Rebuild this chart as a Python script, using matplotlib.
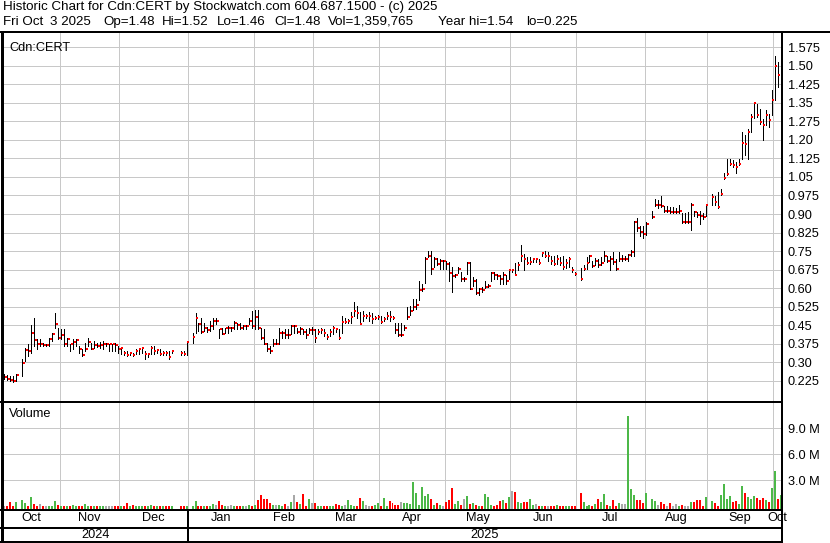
import numpy as np
import matplotlib
matplotlib.use('Agg')
from matplotlib import pyplot as plt
from matplotlib.transforms import blended_transform_factory

plt.rcParams['font.family'] = ['Liberation Sans', 'DejaVu Sans']

nan = np.nan

# one slot per trading day, Oct 2024 .. Oct 3 2025 (nan = no trade)
high = [0.252, 0.248, 0.245, 0.245, 0.252, nan, 0.312, 0.360, 0.373, 0.450,
        0.481, 0.393, 0.393, 0.380, 0.376, 0.400, 0.420, 0.501, 0.440, 0.434,
        0.434, 0.400, 0.376, 0.393, 0.393, 0.366, 0.353, 0.380, 0.400, 0.380,
        0.386, 0.380, 0.382, 0.386, 0.380, 0.376, 0.376, 0.380, 0.366, 0.360,
        0.346, 0.346, 0.339, 0.339, 0.353, 0.357, 0.360, 0.346, 0.339, 0.366,
        0.366, 0.356, 0.353, 0.346, 0.346, 0.346, 0.350, nan, nan, 0.346,
        0.346, 0.386, nan, 0.420, 0.501, 0.461, 0.481, 0.461, 0.444, 0.467,
        0.481, 0.481, 0.436, 0.440, 0.440, 0.447, 0.443, 0.467, 0.461, 0.461,
        0.450, 0.450, 0.481, 0.508, 0.510, 0.510, 0.440, 0.434, 0.380, 0.366,
        0.393, 0.393, 0.440, 0.427, 0.434, 0.434, 0.450, 0.450, 0.440, 0.443,
        0.434, 0.434, 0.438, 0.443, 0.434, 0.434, 0.438, 0.434, 0.416, 0.436,
        0.447, 0.440, 0.434, 0.488, 0.481, 0.477, 0.502, 0.543, 0.529, 0.502,
        0.509, 0.495, 0.502, 0.498, 0.488, 0.491, 0.488, 0.484, 0.502, 0.509,
        0.488, 0.461, 0.461, 0.461, 0.450, 0.524, 0.528, 0.558, 0.555, 0.631,
        0.618, 0.726, 0.750, 0.750, 0.726, 0.722, 0.719, 0.716, 0.712, 0.705,
        0.685, 0.658, 0.685, 0.665, 0.645, 0.705, 0.705, 0.645, 0.638, 0.601,
        0.605, 0.631, 0.618, 0.665, 0.665, 0.658, 0.652, 0.665, 0.652, 0.676,
        0.678, 0.703, 0.705, 0.773, 0.739, 0.726, 0.726, 0.722, 0.722, 0.719,
        0.746, 0.752, 0.746, 0.732, 0.732, 0.735, 0.726, 0.732, 0.719, 0.726,
        0.685, 0.665, nan, 0.681, 0.692, 0.726, 0.736, 0.712, 0.722, 0.719,
        0.726, 0.750, 0.732, 0.732, 0.746, 0.719, 0.746, 0.735, 0.732, 0.740,
        0.756, 0.871, 0.884, 0.851, 0.853, 0.867, nan, 0.911, 0.959, 0.955,
        0.972, 0.932, 0.932, 0.929, 0.929, 0.925, 0.936, 0.905, 0.905, 0.909,
        0.945, 0.911, 0.909, 0.911, 0.905, 0.938, nan, 0.979, 0.972, 0.988,
        1.003, 1.064, 1.124, 1.124, 1.117, 1.111, 1.124, 1.232, 1.218, 1.245,
        1.306, 1.350, 1.346, 1.326, 1.286, 1.319, 1.306, 1.400, 1.540, 1.514,
        1.520]

low = [0.232, 0.229, 0.225, 0.222, 0.225, nan, 0.245, 0.306, 0.326, 0.337,
       0.366, 0.353, 0.366, 0.366, 0.366, 0.366, 0.386, 0.440, 0.393, 0.393,
       0.366, 0.366, 0.346, 0.353, 0.366, 0.339, 0.326, 0.346, 0.366, 0.353,
       0.360, 0.362, 0.360, 0.353, 0.366, 0.346, 0.346, 0.346, 0.339, 0.333,
       0.329, 0.326, 0.329, 0.326, 0.333, 0.333, 0.339, 0.312, 0.320, 0.333,
       0.333, 0.339, 0.329, 0.329, 0.329, 0.312, 0.337, nan, nan, 0.329,
       0.329, 0.329, nan, 0.380, 0.420, 0.427, 0.420, 0.427, 0.423, 0.427,
       0.434, 0.454, 0.400, 0.413, 0.420, 0.420, 0.427, 0.434, 0.434, 0.434,
       0.434, 0.434, 0.454, 0.440, 0.434, 0.434, 0.393, 0.373, 0.346, 0.339,
       0.366, 0.373, 0.373, 0.400, 0.400, 0.400, 0.416, 0.420, 0.420, 0.413,
       0.413, 0.400, 0.420, 0.413, 0.383, 0.413, 0.420, 0.406, 0.393, 0.406,
       0.413, 0.423, 0.393, 0.420, 0.461, 0.461, 0.461, 0.488, 0.481, 0.454,
       0.468, 0.481, 0.468, 0.461, 0.475, 0.475, 0.461, 0.468, 0.475, 0.468,
       0.475, 0.420, 0.406, 0.406, 0.430, 0.477, 0.490, 0.510, 0.517, 0.551,
       0.587, 0.621, 0.726, 0.658, 0.685, 0.692, 0.678, 0.678, 0.678, 0.631,
       0.584, 0.645, 0.660, 0.631, 0.631, 0.658, 0.595, 0.611, 0.578, 0.571,
       0.585, 0.601, 0.605, 0.631, 0.638, 0.638, 0.618, 0.618, 0.618, 0.638,
       0.665, 0.652, 0.672, 0.712, 0.672, 0.699, 0.699, 0.705, 0.705, 0.699,
       0.732, 0.726, 0.712, 0.699, 0.692, 0.699, 0.692, 0.678, 0.681, 0.685,
       0.665, 0.654, nan, 0.635, 0.672, 0.678, 0.705, 0.685, 0.692, 0.685,
       0.692, 0.712, 0.705, 0.672, 0.699, 0.672, 0.712, 0.712, 0.716, 0.709,
       0.729, 0.729, 0.830, 0.810, 0.803, 0.817, nan, 0.884, 0.932, 0.925,
       0.929, 0.909, 0.909, 0.905, 0.905, 0.905, 0.905, 0.864, 0.864, 0.864,
       0.837, 0.891, 0.887, 0.860, 0.878, 0.891, nan, 0.938, 0.938, 0.925,
       0.976, 1.043, 1.057, 1.097, 1.090, 1.064, 1.097, 1.124, 1.138, 1.124,
       1.232, 1.288, 1.292, 1.265, 1.198, 1.259, 1.252, 1.299, 1.360, 1.413,
       1.460]

close = [0.241, 0.232, 0.229, 0.225, 0.248, nan, 0.296, 0.350, 0.346, 0.417,
         0.391, 0.376, 0.376, 0.370, 0.370, 0.393, 0.413, 0.454, 0.400, 0.409,
         0.373, 0.396, 0.373, 0.382, 0.391, 0.353, 0.329, 0.353, 0.382, 0.356,
         0.369, 0.366, 0.369, 0.373, 0.373, 0.373, 0.373, 0.369, 0.356, 0.357,
         0.337, 0.329, 0.337, 0.329, 0.346, 0.353, 0.357, 0.333, 0.335, 0.360,
         0.346, 0.350, 0.335, 0.339, 0.337, 0.320, 0.346, nan, nan, 0.337,
         0.333, 0.382, nan, 0.403, 0.481, 0.454, 0.423, 0.438, 0.431, 0.447,
         0.467, 0.467, 0.434, 0.416, 0.438, 0.438, 0.438, 0.458, 0.450, 0.440,
         0.447, 0.447, 0.467, 0.447, 0.483, 0.438, 0.400, 0.376, 0.356, 0.346,
         0.376, 0.376, 0.417, 0.420, 0.409, 0.409, 0.447, 0.447, 0.423, 0.436,
         0.423, 0.409, 0.431, 0.431, 0.400, 0.423, 0.431, 0.420, 0.402, 0.423,
         0.438, 0.434, 0.400, 0.464, 0.464, 0.468, 0.484, 0.509, 0.498, 0.457,
         0.488, 0.488, 0.488, 0.475, 0.481, 0.484, 0.464, 0.477, 0.488, 0.484,
         0.481, 0.430, 0.409, 0.409, 0.440, 0.482, 0.506, 0.524, 0.531, 0.591,
         0.598, 0.719, 0.732, 0.678, 0.719, 0.699, 0.712, 0.712, 0.699, 0.661,
         0.649, 0.652, 0.678, 0.638, 0.638, 0.701, 0.598, 0.629, 0.582, 0.598,
         0.591, 0.605, 0.611, 0.661, 0.654, 0.649, 0.638, 0.654, 0.631, 0.672,
         0.672, 0.654, 0.692, 0.732, 0.719, 0.701, 0.705, 0.719, 0.719, 0.701,
         0.742, 0.732, 0.732, 0.712, 0.699, 0.719, 0.701, 0.685, 0.701, 0.719,
         0.672, 0.658, nan, 0.638, 0.678, 0.701, 0.732, 0.689, 0.712, 0.692,
         0.701, 0.732, 0.712, 0.719, 0.705, 0.678, 0.719, 0.719, 0.719, 0.736,
         0.745, 0.867, 0.844, 0.828, 0.821, 0.860, nan, 0.887, 0.936, 0.936,
         0.934, 0.914, 0.914, 0.907, 0.907, 0.907, 0.914, 0.867, 0.867, 0.867,
         0.936, 0.907, 0.898, 0.891, 0.887, 0.936, nan, 0.970, 0.948, 0.928,
         0.983, 1.047, 1.061, 1.104, 1.100, 1.090, 1.104, 1.189, 1.182, 1.232,
         1.292, 1.349, 1.302, 1.272, 1.259, 1.302, 1.281, 1.362, 1.497, 1.461,
         1.480]

# volume in millions of shares
volume = [0.03, 0.03, 0.50, 0.03, 0.50, nan, 0.73, 0.38, 0.04, 1.08,
          0.27, 0.04, 0.27, 0.04, 0.03, 0.03, 0.03, 0.62, 0.15, 0.03,
          0.03, 0.03, 0.03, 0.15, 0.04, 0.03, 0.03, 0.27, 0.03, 0.03,
          0.03, 0.03, 0.03, 0.03, 0.03, 0.03, 0.03, 0.03, 0.03, 0.03,
          0.03, 0.38, 0.03, 0.15, 0.03, 0.04, 0.03, 0.04, 0.03, 0.15,
          0.04, 0.04, 0.03, 0.04, 0.03, 0.03, 0.03, nan, nan, 0.03,
          0.04, 0.04, nan, 0.03, 0.62, 0.03, 0.03, 0.03, 0.03, 0.03,
          0.27, 0.15, 0.62, 0.15, 0.03, 0.03, 0.15, 0.03, 0.03, 0.04,
          0.04, 0.03, 0.15, 0.04, 0.15, 0.73, 1.31, 0.85, 0.85, 0.38,
          0.15, 0.15, 0.15, 0.04, 0.27, 0.03, 0.50, 1.31, 0.50, 0.27,
          1.42, 0.04, 0.85, 0.38, 0.38, 0.04, 0.04, 0.03, 0.04, 0.03,
          0.04, 0.27, 0.15, 0.03, 0.15, 0.73, 0.15, 0.04, 0.03, 0.96,
          0.62, 0.15, 0.03, 0.04, 0.15, 0.38, 0.03, 0.96, 0.04, 0.62,
          0.38, 0.15, 0.15, 0.50, 0.38, 0.38, 0.27, 2.80, 1.54, 0.10,
          2.23, 1.19, 1.42, 0.85, 0.15, 0.38, 0.15, 0.04, 0.50, 0.73,
          2.10, 0.27, 0.62, 0.15, 0.85, 1.19, 0.27, 0.38, 0.15, 0.04,
          0.05, 1.42, 1.08, 0.15, 0.03, 0.15, 0.62, 0.73, 0.38, 1.08,
          1.77, 1.65, 0.50, 0.38, 0.50, 0.50, 0.85, 0.15, 0.27, 0.04,
          0.04, 0.04, 0.04, 0.03, 0.03, 0.15, 0.03, 0.03, 0.03, 0.04,
          0.04, 0.04, nan, 1.54, 0.50, 0.04, 0.15, 0.04, 0.27, 0.85,
          0.50, 1.42, 0.15, 0.04, 0.73, 0.04, 0.38, 0.27, 0.27, 10.40,
          2.00, 1.31, 0.73, 0.73, 0.38, 1.54, nan, 0.85, 0.62, 0.15,
          0.50, 0.27, 0.03, 0.38, 0.03, 0.27, 0.03, 0.15, 0.03, 0.03,
          0.50, 0.50, 0.73, 0.73, 0.04, 1.08, nan, 0.62, 0.38, 0.04,
          1.31, 2.58, 0.85, 1.19, 0.50, 0.62, 0.27, 2.35, 1.54, 1.08,
          0.85, 1.19, 0.96, 0.73, 0.96, 0.73, 0.50, 2.10, 4.08, 0.80,
          1.36]

months = ['Oct', 'Nov', 'Dec', 'Jan', 'Feb', 'Mar', 'Apr', 'May', 'Jun',
          'Jul', 'Aug', 'Sep', 'Oct']
month_start = [0, 19, 39, 62, 84, 104, 126, 148, 170, 192, 215, 236, 258]
years = ['2024', '2025']
year_start = [0, 62]
price_ticks = [0.225, 0.30, 0.375, 0.45, 0.525, 0.60, 0.675, 0.75, 0.825,
               0.90, 0.975, 1.05, 1.125, 1.20, 1.275, 1.35, 1.425, 1.50, 1.575]
vol_ticks = [3.0, 6.0, 9.0]

title = 'Historic Chart for Cdn:CERT by Stockwatch.com 604.687.1500 - (c) 2025'
quote = ['Fri Oct', '3 2025', 'Op=1.48', 'Hi=1.52', 'Lo=1.46', 'Cl=1.48',
         'Vol=1,359,765', 'Year hi=1.54', 'lo=0.225']
quote_x = [3, 50, 103, 162, 217, 274, 328, 438, 526]

high = np.array(high)
low = np.array(low)
close = np.array(close)
volume = np.array(volume)
n = len(close)
x = np.arange(n)

# up / down / unchanged colouring from the close
prev = np.full(n, nan)
last = nan
for i in range(n):
    prev[i] = last
    if not np.isnan(close[i]):
        last = close[i]
vcol = []
for c, p in zip(close, prev):
    if np.isnan(c) or np.isnan(p) or c == p:
        vcol.append('#a8a8a8')
    elif c > p:
        vcol.append('#4cb848')
    else:
        vcol.append('#ff0000')

W, H = 830, 543
PX = 0.72  # one pixel in points
FS = 9.2
fig = plt.figure(figsize=(W / 100, H / 100), dpi=100)


def box(x0, y0, x1, y1):
    return [x0 / W, 1 - y1 / H, (x1 - x0) / W, (y1 - y0) / H]


grid_col = '#c8c8c8'
xlo, xhi = -0.5, n - 0.5
bounds = [s - 0.5 for s in month_start[1:]]

ax = fig.add_axes(box(3, 33, 782, 402))
ax.set_xlim(xlo, xhi)
ax.set_ylim(0.140, 1.632)
ax.set_yticks(price_ticks)
ax.set_yticklabels(['%.3f' % v if round(v * 1000) % 10 else '%.2f' % v
                    for v in price_ticks])
ax.set_xticks(bounds)
ax.set_xticklabels([])
ax.grid(True, color=grid_col, lw=PX, antialiased=False)
ax.set_axisbelow(True)
ax.yaxis.tick_right()
ax.tick_params(length=0, labelsize=FS, pad=4)
for s in ax.spines.values():
    s.set_visible(False)
ax.vlines(x, low, high, color='black', lw=PX, antialiased=False)
ax.hlines(close, x + 0.2, x + 0.87, color='red', lw=2 * PX,
          antialiased=False)
ax.text(6 / 779, 0.975, 'Cdn:CERT', transform=ax.transAxes, fontsize=FS,
        va='top', ha='left')

vpad = 0.31
axv = fig.add_axes(box(3, 403, 782, 509))
axv.set_xlim(xlo, xhi)
axv.set_ylim(-vpad, 11.92)
axv.set_yticks(vol_ticks)
axv.set_yticklabels(['%.1f M' % v for v in vol_ticks])
axv.set_xticks(bounds)
axv.set_xticklabels([])
axv.grid(True, color=grid_col, lw=PX, antialiased=False)
axv.set_axisbelow(True)
axv.yaxis.tick_right()
axv.tick_params(length=0, labelsize=FS, pad=4)
for s in axv.spines.values():
    s.set_visible(False)
axv.bar(x, volume + vpad, bottom=-vpad, width=0.67, color=vcol,
        antialiased=False, linewidth=0)
axv.text(6 / 779, 0.95, 'Volume', transform=axv.transAxes, fontsize=FS,
         va='top', ha='left')

# month and year rows under the volume panel
tr = blended_transform_factory(axv.transData, fig.transFigure)
edges = month_start + [n]
for k, name in enumerate(months):
    xc = (edges[k] + edges[k + 1] - 1) / 2
    fig.text(xc, 1 - 518 / H, name, transform=tr, ha='center', va='center',
             fontsize=FS)
yedges = year_start + [n]
for k, name in enumerate(years):
    xc = (yedges[k] + yedges[k + 1] - 1) / 2
    fig.text(xc, 1 - 535 / H, name, transform=tr, ha='center', va='center',
             fontsize=FS)

# frame lines (pixel coordinates)
ov = fig.add_axes([0, 0, 1, 1], zorder=5)
ov.set_xlim(0, W)
ov.set_ylim(H, 0)
ov.axis('off')
ov.patch.set_alpha(0)
kw = dict(color='black', antialiased=False, solid_capstyle='butt')
ov.plot([0, W], [32, 32], lw=2 * PX, **kw)
ov.plot([1.5, 1.5], [31, H], lw=3 * PX, **kw)
ov.plot([0, 783], [402, 402], lw=2 * PX, **kw)
ov.plot([782, 782], [31, H], lw=2 * PX, **kw)
ov.plot([0, 783], [509.5, 509.5], lw=2 * PX, **kw)
ov.plot([0, 783], [527.5, 527.5], lw=2 * PX, **kw)
ov.plot([0, 783], [542, 542], lw=2 * PX, **kw)
yb = year_start[1] - 0.5
trv = blended_transform_factory(axv.transData, ov.transData)
ov.plot([yb, yb], [509, 542], transform=trv, lw=2 * PX, **kw)

# header
ov.text(3, 1, title, fontsize=9.6, va='top', ha='left')
for s, px in zip(quote, quote_x):
    ov.text(px, 16, s, fontsize=9.6, va='top', ha='left')

fig.savefig('out.png', dpi=100)
